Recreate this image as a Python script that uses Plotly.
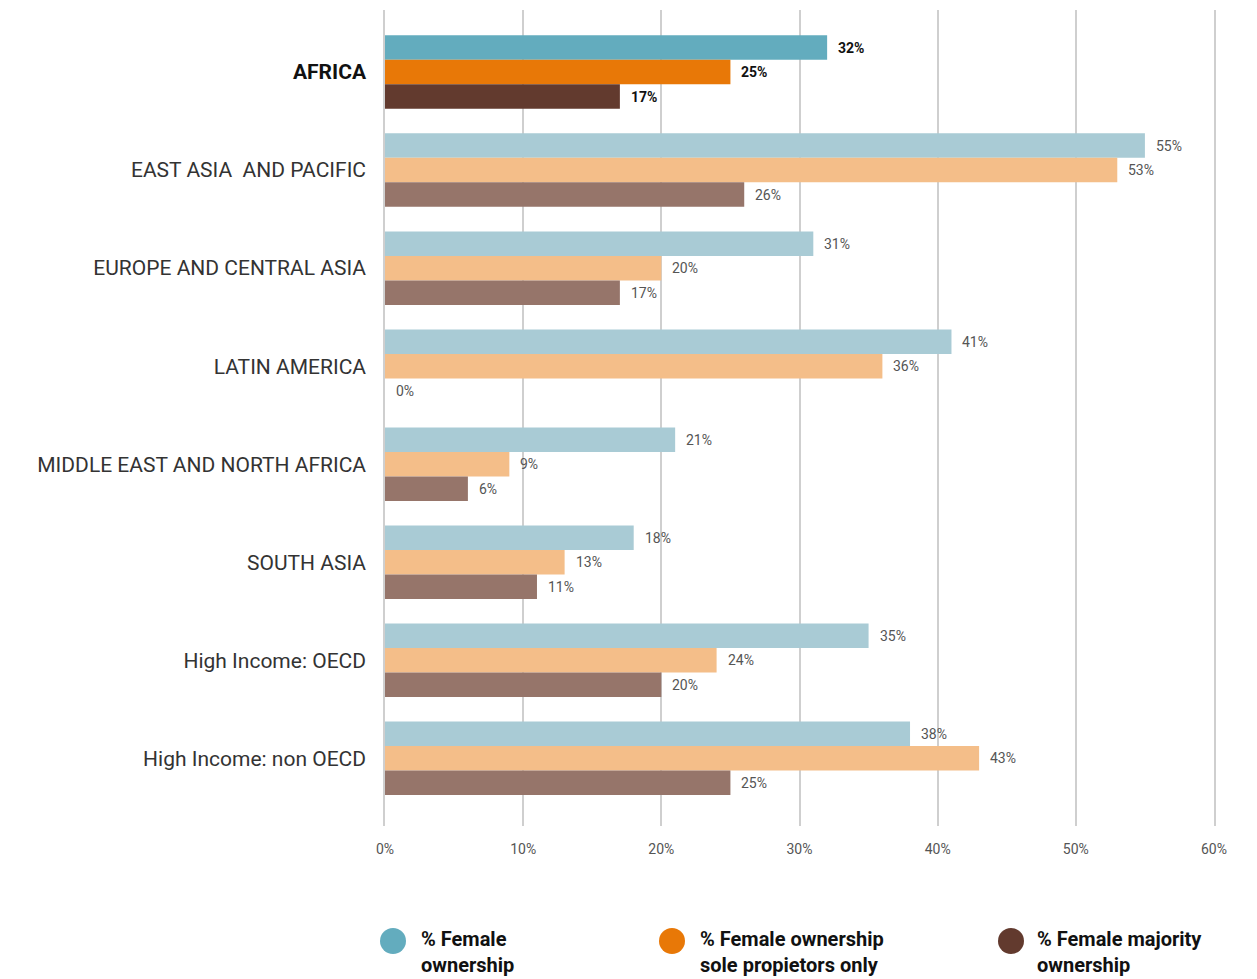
import plotly.graph_objects as go

# Regions (top to bottom) and the three ownership measures, in percent
regions = [
    "AFRICA",
    "EAST ASIA\u00a0 AND PACIFIC",
    "EUROPE AND CENTRAL ASIA",
    "LATIN AMERICA",
    "MIDDLE EAST AND NORTH AFRICA",
    "SOUTH ASIA",
    "High Income: OECD",
    "High Income: non OECD",
]
female_ownership = [32, 55, 31, 41, 21, 18, 35, 38]
sole_proprietors = [25, 53, 20, 36, 9, 13, 24, 43]
majority_ownership = [17, 26, 17, 0, 6, 11, 20, 25]

series_names = [
    "% Female<br>ownership",
    "% Female ownership<br>sole propietors only",
    "% Female majority<br>ownership",
]
x_ticks = [0, 10, 20, 30, 40, 50, 60]

# Strong colours for the highlighted region, muted ones for the rest
strong = ["#63ACBE", "#E87807", "#623A2E"]
muted = ["#A9CBD5", "#F4BE89", "#96756A"]

series = [female_ownership, sole_proprietors, majority_ownership]
n = len(regions)
idx = list(range(n))

FONT = "Roboto"
GRID = "#CFCFCF"
fig = go.Figure()
for s, vals in enumerate(series):
    colors = [strong[s] if i == 0 else muted[s] for i in idx]
    fig.add_trace(go.Bar(
        x=vals, y=idx, orientation="h",
        marker=dict(color=colors, line=dict(width=0)),
        showlegend=False, hoverinfo="skip",
    ))

# Value labels next to each bar end
annotations = []
offsets = [-0.25, 0.0, 0.25]
for s, vals in enumerate(series):
    for i, v in enumerate(vals):
        bold = i == 0
        annotations.append(dict(
            x=v, y=i + offsets[s], xref="x", yref="y",
            text=f"<b>{v}%</b>" if bold else f"{v}%",
            showarrow=False, xanchor="left", yanchor="middle", xshift=9,
            font=dict(family=FONT, size=14, color="#111111" if bold else "#555555"),
        ))

# Category tick labels; the highlighted region is bold and darker
ticktext = [f"<b><span style='color:#111111'>{r}</span></b>" if i == 0 else r
            for i, r in enumerate(regions)]

# Custom legend: large circles with two-line bold captions
L, R, T, B = 385, 1214, 10, 826
W, H = R - L, B - T


def px_x(p):
    return (p - L) / W


def px_y(p):
    return (B - p) / H


shapes = []
legend_circle_x = [393, 672, 1011]
legend_text_x = [419, 698, 1035]
for s in range(3):
    shapes.append(dict(
        type="circle", xref="paper", yref="paper",
        xsizemode="pixel", ysizemode="pixel",
        xanchor=px_x(legend_circle_x[s]), yanchor=px_y(941),
        x0=-13, x1=13, y0=-13, y1=13,
        fillcolor=strong[s], line=dict(width=0),
    ))
    annotations.append(dict(
        x=px_x(legend_text_x[s]), y=px_y(925), xref="paper", yref="paper",
        text=f"<b>{series_names[s]}</b>", showarrow=False,
        xanchor="left", yanchor="top", align="left",
        font=dict(family=FONT, size=20, color="#111111"),
    ))

fig.update_layout(
    barmode="group", bargap=0.25, bargroupgap=0,
    width=1257, height=979,
    margin=dict(l=L, r=1257 - R, t=T, b=979 - B),
    plot_bgcolor="white", paper_bgcolor="white",
    font=dict(family=FONT),
    annotations=annotations, shapes=shapes,
    xaxis=dict(
        range=[0, 60], tickvals=x_ticks, ticktext=[f"{t}%" for t in x_ticks],
        showgrid=True, gridcolor=GRID, gridwidth=1.5,
        zeroline=False, showline=False,
        tickfont=dict(family=FONT, size=14, color="#555555"),
        ticks="", ticklabelstandoff=13,
    ),
    yaxis=dict(
        range=[7.69, -0.633], tickvals=idx, ticktext=ticktext,
        showgrid=False, zeroline=False,
        showline=True, linecolor=GRID, linewidth=1.5, mirror=True,
        tickfont=dict(family=FONT, size=21, color="#333333"),
        ticks="", ticklabelstandoff=13,
    ),
)

fig.write_html("out.html")
